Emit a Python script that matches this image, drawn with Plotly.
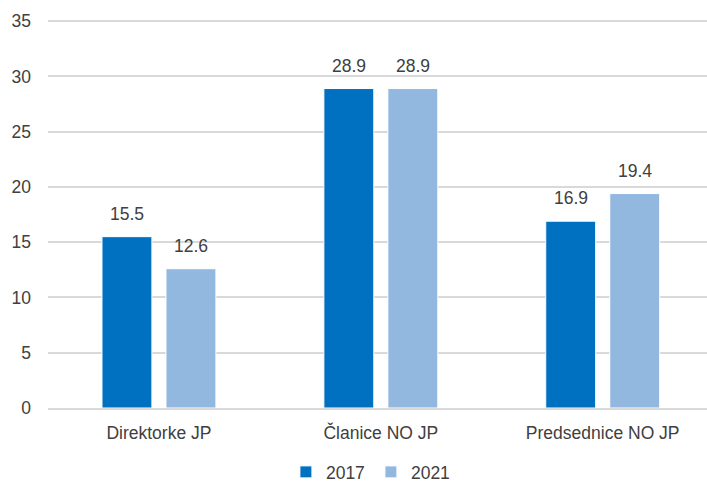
import plotly.graph_objects as go

categories = ["Direktorke JP", "Članice NO JP", "Predsednice NO JP"]
values_2017 = [15.5, 28.9, 16.9]
values_2021 = [12.6, 28.9, 19.4]
series_names = ["2017", "2021"]
y_ticks = [0, 5, 10, 15, 20, 25, 30, 35]

TEXT = "#404040"
FONT = "Liberation Sans, Arial, sans-serif"
FS = 17.5

# layout geometry (style)
L_MARGIN, R_MARGIN, T_MARGIN, B_MARGIN = 48, 0, 20, 77
W, H = 707, 485
X_RANGE = [-0.5, 2.47]
BARGAP, BARGROUPGAP = 0.423, 0.22
px_per_cat = (W - L_MARGIN - R_MARGIN) / (X_RANGE[1] - X_RANGE[0])
slot_px = (1 - BARGAP) * px_per_cat / 2

fig = go.Figure()
series = [(series_names[0], values_2017, "#0070C0"), (series_names[1], values_2021, "#93B8E0")]
for name, vals, col in series:
    fig.add_trace(go.Bar(
        x=categories, y=vals, name=name,
        marker=dict(color=col, line=dict(color="white", width=1)),
    ))

annotations = []
for i, (name, vals, col) in enumerate(series):
    shift = (i - 0.5) * slot_px
    for c, v in zip(categories, vals):
        annotations.append(dict(
            x=c, y=v, xref="x", yref="y", text=f"{v:.1f}", showarrow=False,
            xshift=shift, yshift=11, yanchor="bottom",
            font=dict(size=FS, color=TEXT, family=FONT),
        ))

fig.update_layout(
    width=W, height=H,
    margin=dict(l=L_MARGIN, r=R_MARGIN, t=T_MARGIN, b=B_MARGIN),
    paper_bgcolor="white", plot_bgcolor="white",
    barmode="group", bargap=BARGAP, bargroupgap=BARGROUPGAP,
    font=dict(family=FONT, size=FS, color=TEXT),
    showlegend=True,
    annotations=annotations,
    legend=dict(orientation="h", x=0.49, xanchor="center",
                yref="container", y=(485 - 472) / 485, yanchor="middle",
                font=dict(size=FS, color=TEXT), traceorder="normal",
                itemwidth=30, entrywidth=40, entrywidthmode="pixels"),
    xaxis=dict(range=X_RANGE, showgrid=False, showline=True, linecolor="#D9D9D9",
               linewidth=1.5, ticks="", tickfont=dict(size=FS, color=TEXT), ticklabelstandoff=8),
    yaxis=dict(range=[0, 35.1], tickvals=y_ticks, showgrid=True, gridcolor="#D9D9D9",
               gridwidth=1.5, zeroline=False, showline=False, ticks="",
               tickfont=dict(size=FS, color=TEXT), ticklabelstandoff=16),
)

fig.write_html("out.html", config={"displayModeBar": False},
               post_script="document.body.style.margin='0';")
